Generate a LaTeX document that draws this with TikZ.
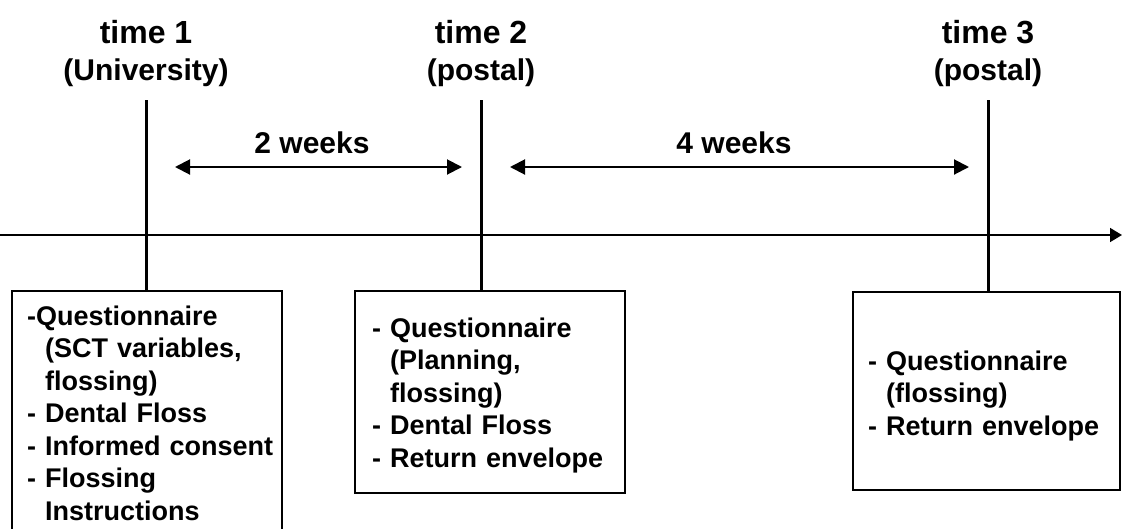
\documentclass[tikz,border=0pt]{standalone}
\usepackage{fontspec}
\setmainfont{Liberation Sans}
\usetikzlibrary{arrows.meta}
\begin{document}
\begin{tikzpicture}[x=1pt,y=-1pt,
  titlelbl/.style={anchor=base,inner sep=0pt,font=\bfseries\fontsize{32}{37}\selectfont},
  sublbl/.style={anchor=base,inner sep=0pt,font=\bfseries\fontsize{30}{36}\selectfont},
  boxframe/.style={draw,line width=2.4pt,rectangle,inner sep=0pt},
  boxtext/.style={anchor=base west,inner sep=0pt,text width=260pt,align=left,
    font=\bfseries\fontsize{27}{32.5}\selectfont},
  vline/.style={line width=3pt},
  axisline/.style={line width=1.6pt,-{Triangle[length=12pt,width=14pt]}},
  span/.style={line width=2pt,{Triangle[length=15pt,width=15pt]}-{Triangle[length=15pt,width=15pt]}},
  spanlbl/.style={anchor=base,inner sep=0pt,font=\bfseries\fontsize{30}{36}\selectfont}]
\useasboundingbox (0,0) rectangle (1122,528);
% titles
\node[titlelbl] (t1) at (146,43) {time 1};
\node[sublbl] (t1s) at (146,80) {(University)};
\node[titlelbl] (t2) at (481,43) {time 2};
\node[sublbl] (t2s) at (481,80) {(postal)};
\node[titlelbl] (t3) at (988,43) {time 3};
\node[sublbl] (t3s) at (988,80) {(postal)};
\coordinate (top1) at (146,100);
\coordinate (top2) at (481,100);
\coordinate (top3) at (988,100);
% boxes
\node[boxframe,minimum width=270pt,minimum height=290pt] (b1) at (147,436) {};
\node[boxframe,minimum width=270pt,minimum height=202pt] (b2) at (490,392) {};
\node[boxframe,minimum width=267pt,minimum height=198pt] (b3) at (986.5,391) {};
% verticals
\draw[vline] (top1) -- (top1 |- b1.north);
\draw[vline] (top2) -- (top2 |- b2.north);
\draw[vline] (top3) -- (top3 |- b3.north);
% axis
\coordinate (axL) at (0,235);
\coordinate (axR) at (1122,235);
\draw[axisline] (axL) -- (axR);
% spans
\coordinate (s1a) at (175,167);
\coordinate (s1b) at (462,167);
\coordinate (s2a) at (510,167);
\coordinate (s2b) at (969,167);
\draw[span] (s1a) -- (s1b);
\draw[span] (s2a) -- (s2b);
\node[spanlbl] (w2) at (312,153) {2 weeks};
\node[spanlbl] (w4) at (734,153) {4 weeks};
% box texts
\node[boxtext] (x1) at (27,325) {-Questionnaire\\\phantom{- }(SCT variables,\\\phantom{- }flossing)\\- Dental Floss\\- Informed consent\\- Flossing\\\phantom{- }Instructions};
\node[boxtext] (x2) at (372,337) {- Questionnaire\\\phantom{- }(Planning,\\\phantom{- }flossing)\\- Dental Floss\\- Return envelope};
\node[boxtext] (x3) at (868,370) {- Questionnaire\\\phantom{- }(flossing)\\- Return envelope};
\end{tikzpicture}
\end{document}
